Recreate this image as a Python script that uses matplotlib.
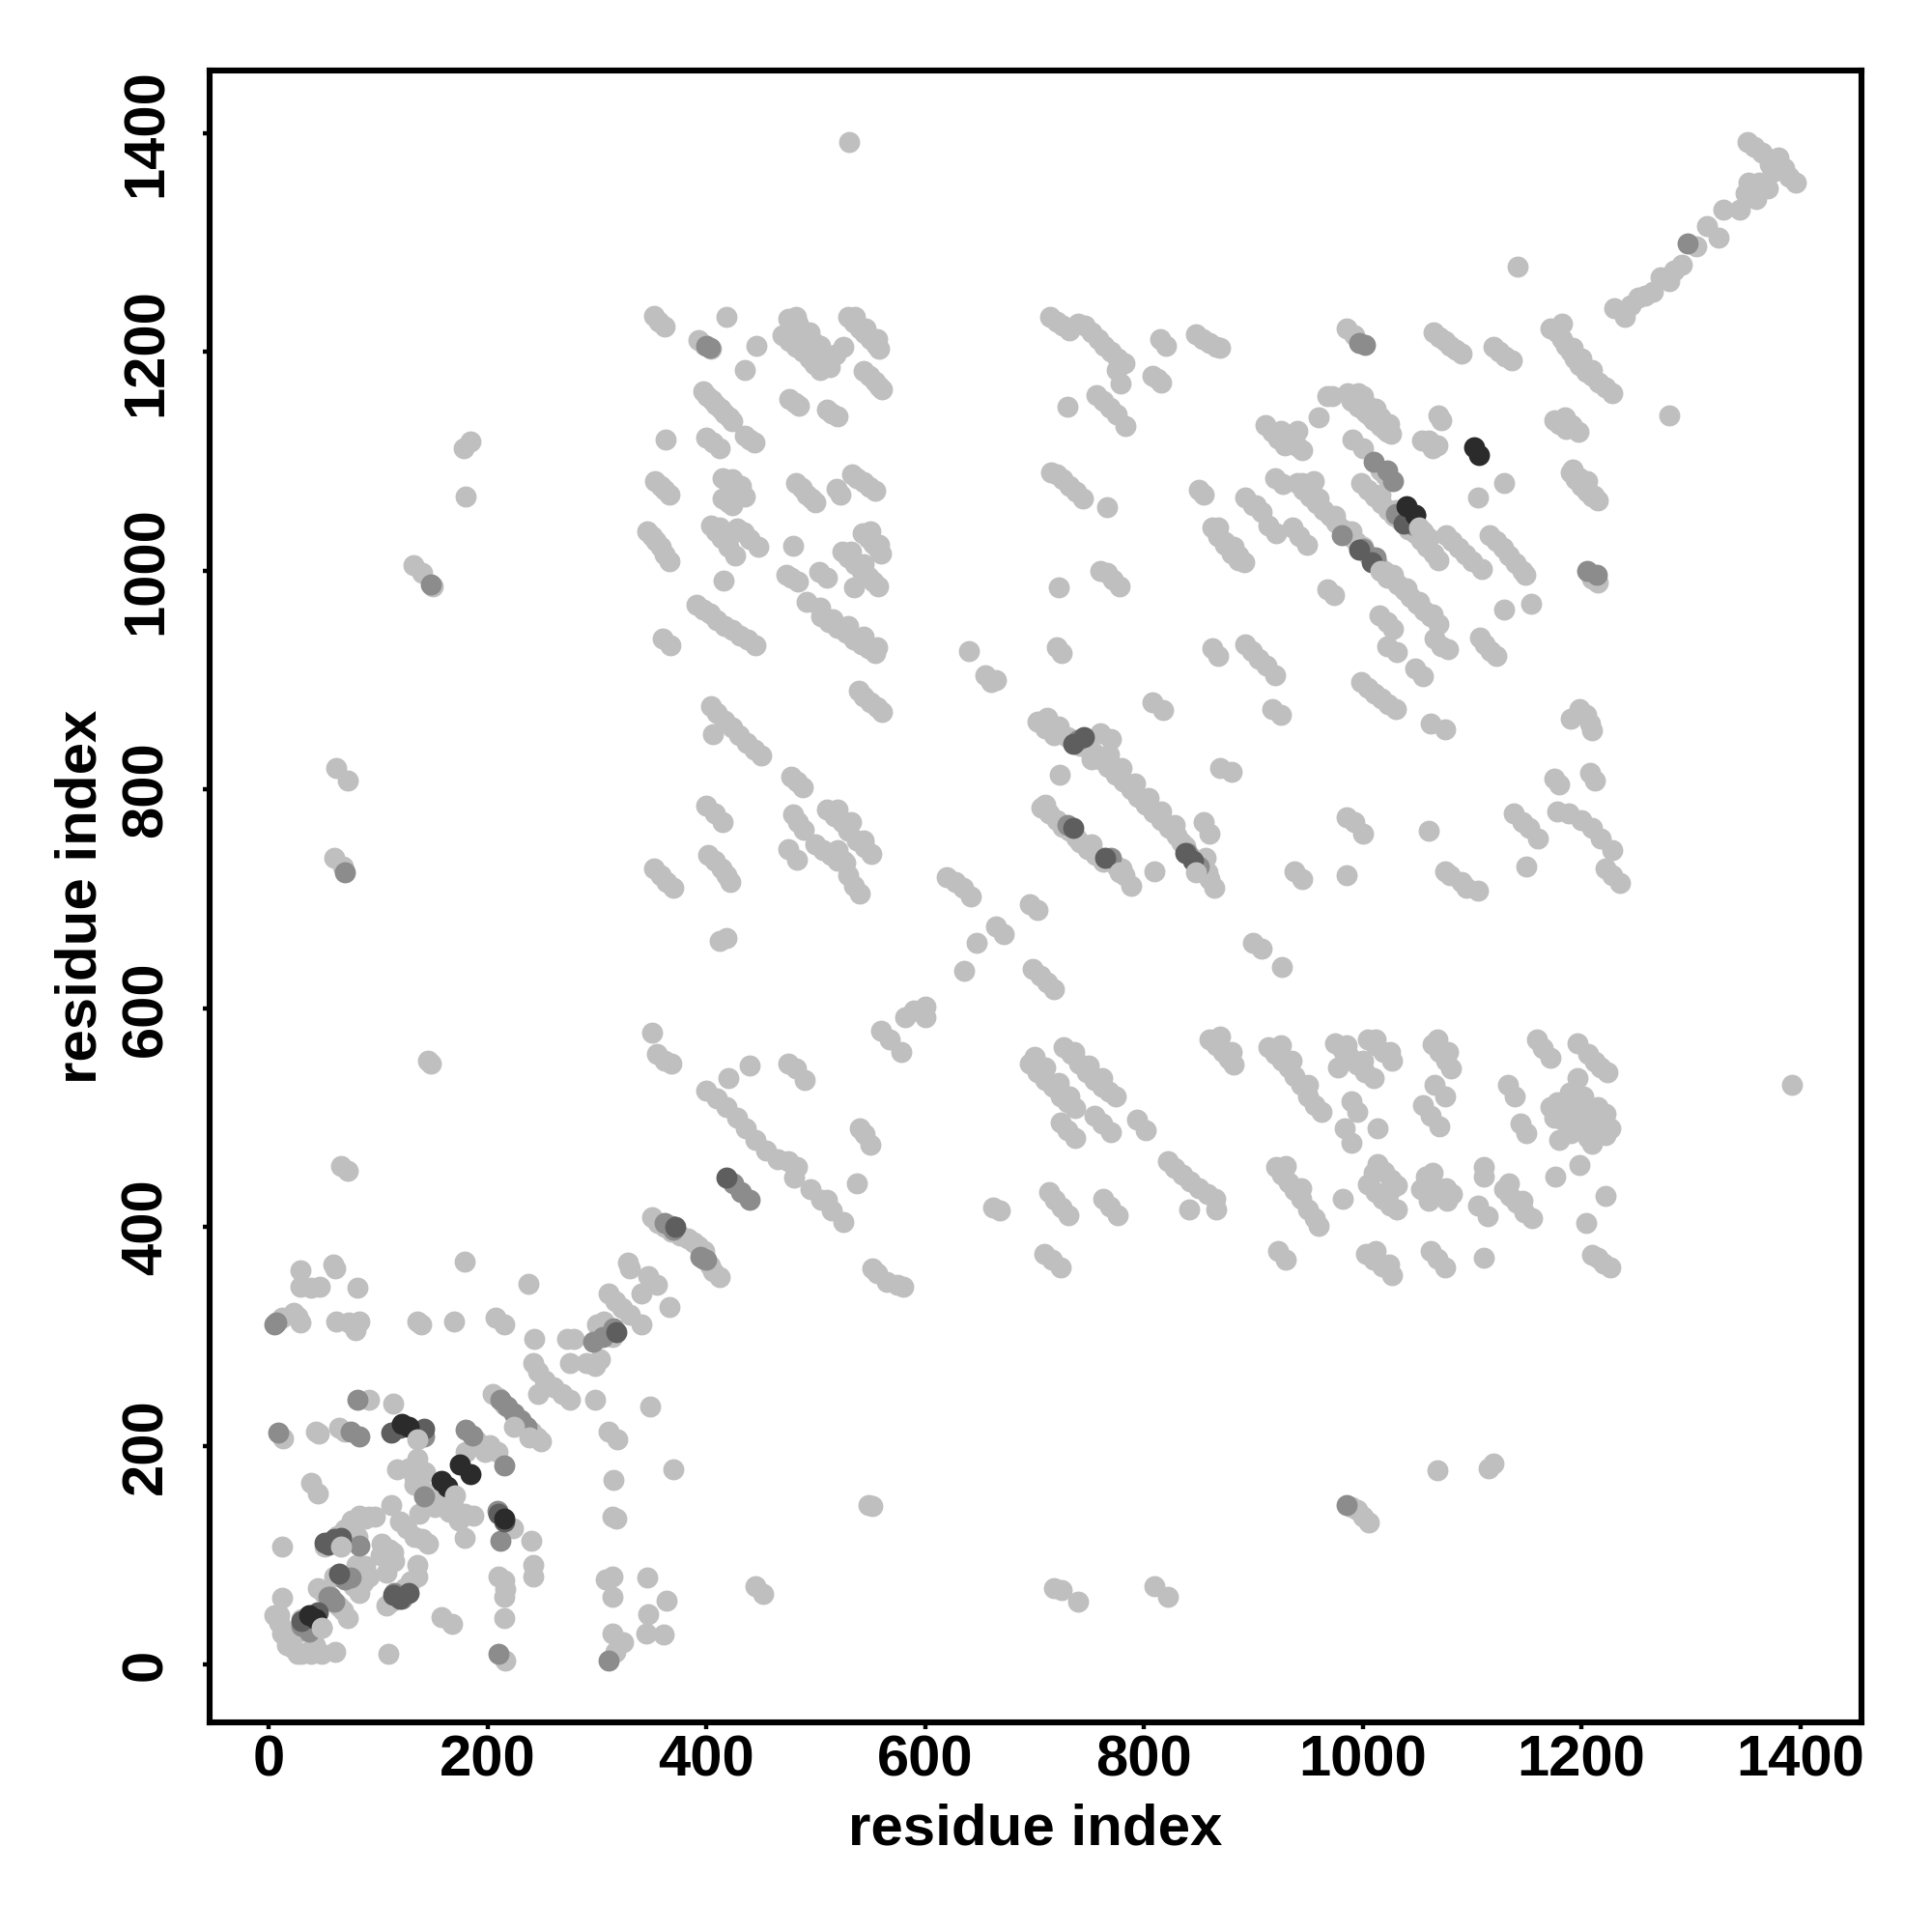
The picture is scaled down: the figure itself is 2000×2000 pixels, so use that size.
import matplotlib
matplotlib.use('Agg')
import matplotlib.pyplot as plt

plt.rcParams['font.family'] = ['Liberation Sans', 'DejaVu Sans']
plt.rcParams['font.weight'] = 'bold'

# contact pairs (residue i, residue j), by grey level
diagonal_end = [(1230,1240),(1240,1232),(1245,1243),(1252,1250),(1258,1252),(1265,1255),(1272,1268),(1280,1265),
    (1285,1275),(1292,1280),(1315,1315),(1325,1305),(1330,1330),(1345,1330),(1350,1345),(1353,1355),(1360,1340),
    (1362,1355),(1370,1350),(1375,1365),(1352,1392),(1358,1388),(1365,1382),(1372,1372),(1380,1378),(1385,1368),
    (1390,1360),(1396,1355),(1305,1297)]
outliers = [(531,1392),(1392,530),(1142,1278),(1280,1142),(552,145),(548,146),(445,72),(452,65),(718,70),(725,68),
    (740,58),(810,72),(822,62),(1068,178),(1115,180),(1120,184),(990,144),(995,142),(1000,135),(1006,130),
    (62,820),(72,808),(60,738),(68,730),(66,456),(72,452),(146,552),(148,550),(178,1112),(184,1118),(180,1068),
    (132,1005),(140,998),(150,986)]
top_band_left = [(352,1233),(357,1228),(362,1223),(393,1211),(398,1207),(404,1203),(418,1232),(446,1206),(435,1184),
    (475,1230),(481,1225),(487,1220),(493,1214),(499,1208),(505,1200),(510,1192),(513,1186),
    (470,1215),(476,1210),(482,1205),(488,1200),(494,1194),(499,1189),(504,1184),(525,1205),(518,1198),
    (530,1232),(535,1227),(540,1222),(545,1217),(550,1212),(555,1207),(558,1203),
    (544,1183),(549,1178),(554,1173),(558,1169),(561,1166),
    (397,1164),(401,1160),(405,1156),(409,1152),(413,1148),(417,1144),(421,1140),(424,1137),
    (476,1157),(481,1154),(485,1151),(510,1147),(515,1144),(520,1141),(363,1120),(400,1122),(406,1117),(412,1112),
    (435,1124),(440,1120),(444,1117),
    (353,1082),(358,1078),(362,1074),(366,1070),(415,1085),(420,1081),(425,1076),(430,1072),(435,1068),
    (415,1066),(420,1063),(424,1060),(482,1080),(487,1076),(492,1070),(496,1066),(500,1063),(519,1075),(523,1070),
    (533,1088),(538,1085),(544,1081),(549,1077),(554,1073),
    (346,1036),(350,1032),(354,1027),(358,1022),(362,1015),(366,1009),
    (404,1041),(409,1036),(414,1030),(420,1022),(426,1014),(428,1039),(434,1035),(440,1029),(448,1022),(479,1023),
    (473,996),(478,994),(484,990),(503,999),(510,994),
    (524,1018),(530,1012),(536,1006),(542,1000),(548,995),(553,990),(557,986),
    (543,1034),(548,1030),(553,1025),(557,1020),(560,1016),(535,985),(416,991),
    (391,969),(397,965),(403,961),(410,955),(417,950),(424,946),(431,941),(438,937),(445,932),
    (492,972),(505,958),(512,953),(520,948),(528,943),(535,937),(542,933),(548,929),(554,925),
    (360,938),(367,932),(539,890),(544,885),(550,880),(556,875),(561,871),
    (404,876),(410,870),(417,863),(424,857),(430,850),(437,843),(444,837),(450,831),(406,851),
    (478,812),(483,807),(488,802),(400,785),(408,778),(415,770),(479,777),(484,770),(489,763),
    (510,782),(517,776),(524,770),(530,762),(538,754),(545,747),(551,741),(475,746),(483,736),
    (500,750),(507,745),(514,740),(520,735),(527,733),(520,745),(525,735),(530,722),(535,712),(540,705),
    (402,740),(408,735),(414,728),(418,722),(422,716),(412,662),(418,664),
    (352,728),(358,722),(364,716),(370,710)]
top_band_mid = [(714,1232),(720,1228),(726,1224),(732,1220),(740,1226),(746,1224),(752,1218),(758,1212),(764,1206),
    (770,1200),(776,1194),(782,1190),(815,1212),(820,1206),(848,1216),(854,1212),(860,1208),(866,1205),(870,1204),
    (730,1150),(757,1161),(763,1155),(769,1149),(775,1143),(783,1132),(775,1184),(779,1171),(808,1178),(812,1176),(816,1172),
    (720,1088),(726,1084),(732,1078),(738,1072),(744,1066),(766,1058),(715,1090),(855,1070),
    (722,985),(720,930),(725,925),(760,1000),(766,998),(772,992),(778,986),(868,1032),(874,1026),(880,1020),(886,1014),(892,1008),
    (902,1060),(908,1054),(868,922),(760,852),(770,846),(808,880),(818,873),(870,820),(880,816),
    (640,927),(655,905),(660,898),(665,900),(723,814),(855,770),(860,760),(810,725),(900,660),(908,655),(926,638),
    (620,720),(628,716),(635,710),(642,702),(647,660),(636,634),(665,675),(672,668),(696,695),(703,690),
    (698,636),(705,630),(712,624),(718,618)]
top_band_right = [(1065,1218),(1070,1214),(1075,1210),(1080,1206),(1085,1202),(1090,1199),(1120,1205),(1125,1200),(1130,1196),(1136,1192),
    (1172,1222),(1178,1218),(1182,1212),(1186,1206),(1190,1200),(1194,1194),(1198,1188),(1204,1182),(1210,1178),(1216,1172),(1222,1168),(1228,1162),
    (985,1222),(992,1215),(1175,1138),(1180,1134),(1186,1130),(1190,1090),(1195,1084),(1200,1078),(1205,1072),(1210,1068),(1215,1064),
    (960,1140),(968,1160),(972,1160),(990,1155),(996,1150),(1002,1146),(1008,1140),(1014,1136),(1020,1130),(1026,1125),
    (925,1128),(930,1124),(935,1118),(940,1114),(945,1110),(1068,1115),(1064,1112),(1072,1138),(1000,1112)]
centre_right = [(940,1080),(946,1074),(952,1068),(958,1062),(964,1056),(970,1050),(976,1044),(982,1038),(988,1032),(994,1026),(1014,1006),(1020,1000),
    (1026,994),(1032,988),(1038,982),(1044,976),(1050,970),(1056,964),(1062,958),(1069,951),
    (999,1080),(1005,1074),(1011,1068),(1017,1062),(1023,1056),(1029,1050),(1053,1028),(1059,1022),(1065,1016),(1069,1010),
    (986,1162),(992,1156),(998,1150),(1004,1144),(1010,1138),(1016,1132),(1022,1127),(991,1120),(1016,1092),(1021,1087),
    (911,1133),(917,1127),(923,1121),(929,1115),(920,1085),(927,1079),(850,1074),(893,1067),(900,1060),
    (863,1040),(868,1032),(874,1024),(880,1016),(886,1010),(914,1041),(921,1034),(936,1040),(942,1032),(949,1024),
    (968,983),(974,978),(1015,959),(1022,953),(1028,947),(1022,931),(1031,926),(1048,911),(1055,904),(1072,931),(1066,938),(1078,928),
    (1107,939),(1112,933),(1117,927),(1122,922),(1129,965),(1154,970),
    (1076,1033),(1082,1027),(1088,1021),(1094,1015),(1100,1009),(1109,1002),
    (1116,1033),(1122,1027),(1128,1021),(1134,1014),(1140,1007),(1146,1000),(1149,996),
    (1105,1067),(1129,1080),(1069,1142),(1054,1119),(1060,1119),(1185,1140),(1191,1133),(1197,1127),
    (1192,1093),(1197,1086),(1203,1078),(1211,1069),(1215,989),(1210,993),
    (863,929),(893,933),(899,927),(905,920),(912,913),(920,905),(999,898),(1005,893),(1011,888),(1017,883),(1023,878),(1030,874),
    (917,874),(1062,860),(1198,874),(1204,868),(1208,860),(1210,854),(1190,865),
    (1175,810),(1180,805),(1208,815),(1212,808),
    (985,775),(992,770),(1000,760),(1060,762),(1075,855),(938,725),(945,718),(985,722),(925,868),
    (1075,725),(1080,722),(1090,716),(1095,710),(1105,708),(1150,730),(1138,778),(1146,770),(1152,765),(1160,755),
    (1178,780),(1188,778),(1200,772),(1210,765),(1218,755),(1228,745),(1222,728),(1228,722),(1235,715)]
central_strands = [(703,862),(710,856),(718,850),(730,848),(760,828),(767,821),(774,814),(781,807),(788,800),(795,793),(802,786),
    (809,779),(816,772),(823,765),(830,758),(852,732),(858,724),(864,710),(860,718),
    (706,784),(713,778),(720,772),(742,752),(749,746),(756,740),(763,734),(775,730),(782,722),(788,712)]
lower_right_band = [(696,550),(703,542),(710,535),(717,528),(724,520),(730,514),(737,509),(727,565),(734,558),(741,550),(748,542),
    (755,535),(762,528),(768,524),(774,520),(724,496),(730,489),(737,482),(755,502),(762,495),(770,487),(794,498),(802,489),
    (860,572),(866,566),(872,560),(878,554),(882,549),(914,565),(920,558),(926,552),(932,546),(938,538),(944,530),(950,520),(956,512),(962,505),
    (977,546),(975,568),(982,562),(988,556),(995,549),(1002,542),(1010,536),(1005,572),(1012,566),(1019,560),(1027,552),
    (1064,567),(1070,560),(1076,552),(1081,545),(1066,530),(1075,520),(1055,512),(1062,502),(1070,492),(990,515),(995,505),(984,490),(990,477),(1014,490),
    (1133,530),(1139,520),(1144,495),(1150,486),(1159,572),(1165,564),(1172,555),(1196,568),(1206,558),(1212,551),(1218,546),(1224,542),(1196,536),
    (1189,523),(1196,515),(1203,506),(1210,498),(1216,490),(1222,484),(1178,514),(1185,505),(1192,497),(1198,490),(1206,482),(1222,504),(1215,510),(1175,500),
    (822,460),(828,454),(835,448),(842,442),(850,436),(858,430),(865,426),(841,416),(866,416),
    (713,432),(719,425),(725,418),(731,411),(763,426),(769,419),(776,411),
    (921,455),(926,448),(932,441),(938,434),(944,426),(950,416),(956,408),(960,401),(982,426),
    (1014,458),(1020,451),(1026,444),(1031,438),(1005,439),(1012,432),(1018,426),(1025,420),(1031,416),
    (1058,446),(1064,440),(1071,432),(1077,424),(1053,435),(1060,424),(1111,455),(1111,446),(1105,420),(1114,410),
    (1129,435),(1135,429),(1141,422),(1148,414),(1155,408),(1176,446),(1198,457),(1204,404),(1222,429),
    (709,376),(716,370),(724,363),(923,378),(930,370),(1003,376),(1010,370),(1018,364),(1027,356),(1062,378),(1068,371),(1075,363),(1111,372),
    (1215,372),(1220,367),(1226,363),(662,418),(668,415)]
mid_diagonal = [(350,578),(355,558),(362,552),(368,550),(400,525),(410,518),(418,510),(428,500),(436,490),(445,480),(455,470),(465,462),(475,460),
    (483,455),(480,445),(495,435),(505,425),(515,415),(525,405),(510,425),(538,440),(420,536),(440,548),(475,550),(482,545),(490,535),
    (540,490),(545,485),(550,475),(552,362),(556,358),(565,350),(575,347),(580,346),(560,580),(568,572),(578,560),(582,592),(590,598),(600,602),(600,592),
    (350,409),(356,404),(362,400),(383,390),(393,383),(403,365),(412,354),
    (368,396),(376,392),(388,386),(398,378),(406,360)]
low_left = [(29,361),(59,366),(61,362),(29,346),(39,345),(47,346),(81,345),(12,317),(23,322),(29,313),(26,318),(62,314),(73,313),(79,306),(83,314),
    (136,314),(139,311),(169,314),(207,317),(215,311),(179,369),(237,348),(243,298),(273,298),(279,298),(275,276),(298,273),(303,279),(290,276),
    (242,276),(246,268),(252,260),(260,254),(268,248),(275,242),(246,248),(298,242),(349,236),(311,339),(317,332),(323,326),(330,320),(341,311),(306,314),
    (328,368),(330,362),(347,355),(355,347),(341,339),(366,327),(300,311),(314,300),(13,207),(43,213),(46,211),(64,217),(70,213),(92,242),(114,239),
    (193,201),(198,195),(202,201),(209,195),(311,213),(319,206),(370,179),(315,169),(314,135),(318,134),
    (117,179),(136,188),(133,172),(136,167),(143,176),(39,166),(45,157),(152,144),(138,138),(112,146),(171,141),(179,138),(187,136),(179,116),(174,132),
    (223,125),(240,113),(242,91),(242,81),(210,81),(215,77),(215,62),(216,69),(215,43),
    (51,108),(81,117),(70,124),(76,132),(83,136),(92,135),(97,135),(12,108),(120,131),(133,117),(146,111),(103,111),(114,103),(102,100),
    (80,91),(92,81),(83,66),(60,81),(108,84),(136,91),(136,81),(127,72),(45,70),(64,53),(72,43),(12,61),(10,45),(12,29),(17,18),(26,10),(39,10),(48,10),(61,12),
    (48,34),(109,10),(158,44),(168,37),(216,4),(314,81),(308,78),(314,62),(346,80),(364,59),(347,46),(345,29),(361,28),(314,29),(324,21),(317,12),
    (205,248),(215,238),(240,213),(249,204),(180,195),(190,205),
    (57,112),(63,118),(69,122),(75,128),(88,134),(126,125),(140,115),(110,105),(112,100),(115,95),(88,90),(86,75),(78,72),
    (130,76),(124,70),(118,64),(112,58),(108,54),(50,66),(62,56),(68,50),(5,45),(10,38),(17,22),(22,15),(30,10),(35,12),(42,18),(28,30),(30,42),(20,30),
    (128,180),(133,165),(140,160),(146,150),(158,145),(165,140),(152,152),(245,208),(210,244),(225,228)]
thick_strands = [(712,866),(722,858),(736,845),(742,840),(748,838),(754,834),(768,832),(780,820),(792,806),(804,792),(816,780),(828,768),(838,748),(834,752),(844,738),(856,738),
    (726,766),(732,762),(738,756),(710,786),(752,750),(768,736),(780,728),
    (1000,1022),(1006,1014),(1035,1046),(1042,1038),(1048,1034),(945,1080),(960,1066),(975,1050),(990,1036),(1028,996),(1040,984),(1052,972),(1064,960),
    (1016,1070),(1030,1056),(1060,1030),(996,1162),(1006,1150),(1016,1140),
    (484,1226),(494,1218),(504,1206),(480,1212),(490,1204),(500,1192),(482,1232),(536,1232),(546,1222),(556,1212),
    (424,1084),(432,1078),(412,1040),(420,1030),(550,1036),(558,1024),(532,1018),(544,1006),(520,782),(532,770),(544,754),
    (504,966),(516,956),(530,950),(544,940),(556,930),(700,556),(710,546),(722,532),(732,520),(736,560),(750,548),(762,536),
    (870,574),(880,560),(925,566),(935,552),(950,530),(985,566),(1000,552),(1012,572),(1025,560),(1068,572),(1078,560),
    (1172,510),(1182,498),(1196,508),(1208,490),(1216,500),(1190,486),(1210,476),(1180,480),(1226,490),(1202,520),
    (1010,450),(1024,432),(1064,450),(1076,436),(1082,430),(930,456),(944,436),(1134,440),(1146,424),(1012,378),(1024,366),(1210,375),
    (1192,1204),(1200,1194),(1210,1184),(1205,1082),(1182,1226),(1000,1160),(1012,1148),(1024,1134),(955,1082),(940,1128),(868,1040),(882,1022)]
mid_grey = [(1297,1299),(1002,1207),(997,1208),(403,1204),(1028,1082),(1022,1092),(981,1033),(1214,996),(1205,1000),(148,988),(70,724),(985,146),
    (1045,1042),(1030,1052),(1000,1020),(1010,1100),(400,1206),(740,845),(840,742),(730,768),(770,738),(850,730),(425,440),(432,432),(440,425),
    (368,401),(397,371),(362,404),(370,398),(395,373),(400,370),(7,313),(5,311),(9,212),(83,209),(75,213),(180,215),(186,210),(215,182),(81,242),(142,209),(83,109),(56,62),(142,154),(209,141),(212,113),
    (297,295),(311,4),(210,10),(37,30),(30,36),(315,308),(305,300),(55,62),(60,58),(115,66),(122,60),(75,80),(70,78),(1012,1012),
    (212,242),(218,236),(224,230),(230,224),(236,218)]
dark_grey = [(1008,1008),(997,1019),(1048,1051),(1037,1043),(418,445),(745,848),(735,842),(845,735),(838,742),(735,765),(765,738),
    (112,212),(120,217),(142,216),(51,112),(60,115),(45,48),(120,60),(114,64),(128,66),(215,131),(210,138),(64,83),(318,304),(372,400),
    (55,110),(62,113),(66,116),(30,40)]
black = [(1102,1113),(1106,1106),(1040,1059),(1048,1051),(175,183),(184,174),(158,168),(163,163),(128,218),(122,220),(37,45),(43,42),(215,134)]
# light residues lying over the darker ones
light_on_top = [(1052,1040),(1056,1034),(1016,1000),(1022,994),(170,155),(66,108),(136,206),(48,34),(224,218),(238,208),(848,724),(778,724),(752,828),(1055,1036)]

light_pts = (diagonal_end + outliers + top_band_left + top_band_mid + top_band_right + centre_right
             + central_strands + lower_right_band + mid_diagonal + low_left + thick_strands)

ticks = [0, 200, 400, 600, 800, 1000, 1200, 1400]

fig = plt.figure(figsize=(10, 10), dpi=200)
ax = fig.add_axes([0.1085, 0.1083, 0.855, 0.855])

ax.scatter([p[0] for p in light_pts], [p[1] for p in light_pts], s=62, c='#bfbfbf', linewidths=0)
ax.scatter([p[0] for p in mid_grey], [p[1] for p in mid_grey], s=62, c='#8c8c8c', linewidths=0)
ax.scatter([p[0] for p in dark_grey], [p[1] for p in dark_grey], s=62, c='#5e5e5e', linewidths=0)
ax.scatter([p[0] for p in black], [p[1] for p in black], s=62, c='#2b2b2b', linewidths=0)
ax.scatter([p[0] for p in light_on_top], [p[1] for p in light_on_top], s=62, c='#bfbfbf', linewidths=0)

ax.set_xlim(-54, 1456)
ax.set_ylim(-53, 1457)
ax.set_xticks(ticks)
ax.set_yticks(ticks)
ax.tick_params(axis='x', length=2.5, width=1.6, labelsize=21.5, pad=2)
ax.tick_params(axis='y', length=2.5, width=1.6, labelsize=21.5, pad=11)
plt.setp(ax.get_yticklabels(), rotation=90, va='center')
for s in ax.spines.values():
    s.set_linewidth(2.2)
ax.set_xlabel('residue index', fontsize=21.6, fontweight='bold', labelpad=5.5)
ax.set_ylabel('residue index', fontsize=21.6, fontweight='bold', labelpad=4.5)

fig.savefig('out.png', dpi=200)
